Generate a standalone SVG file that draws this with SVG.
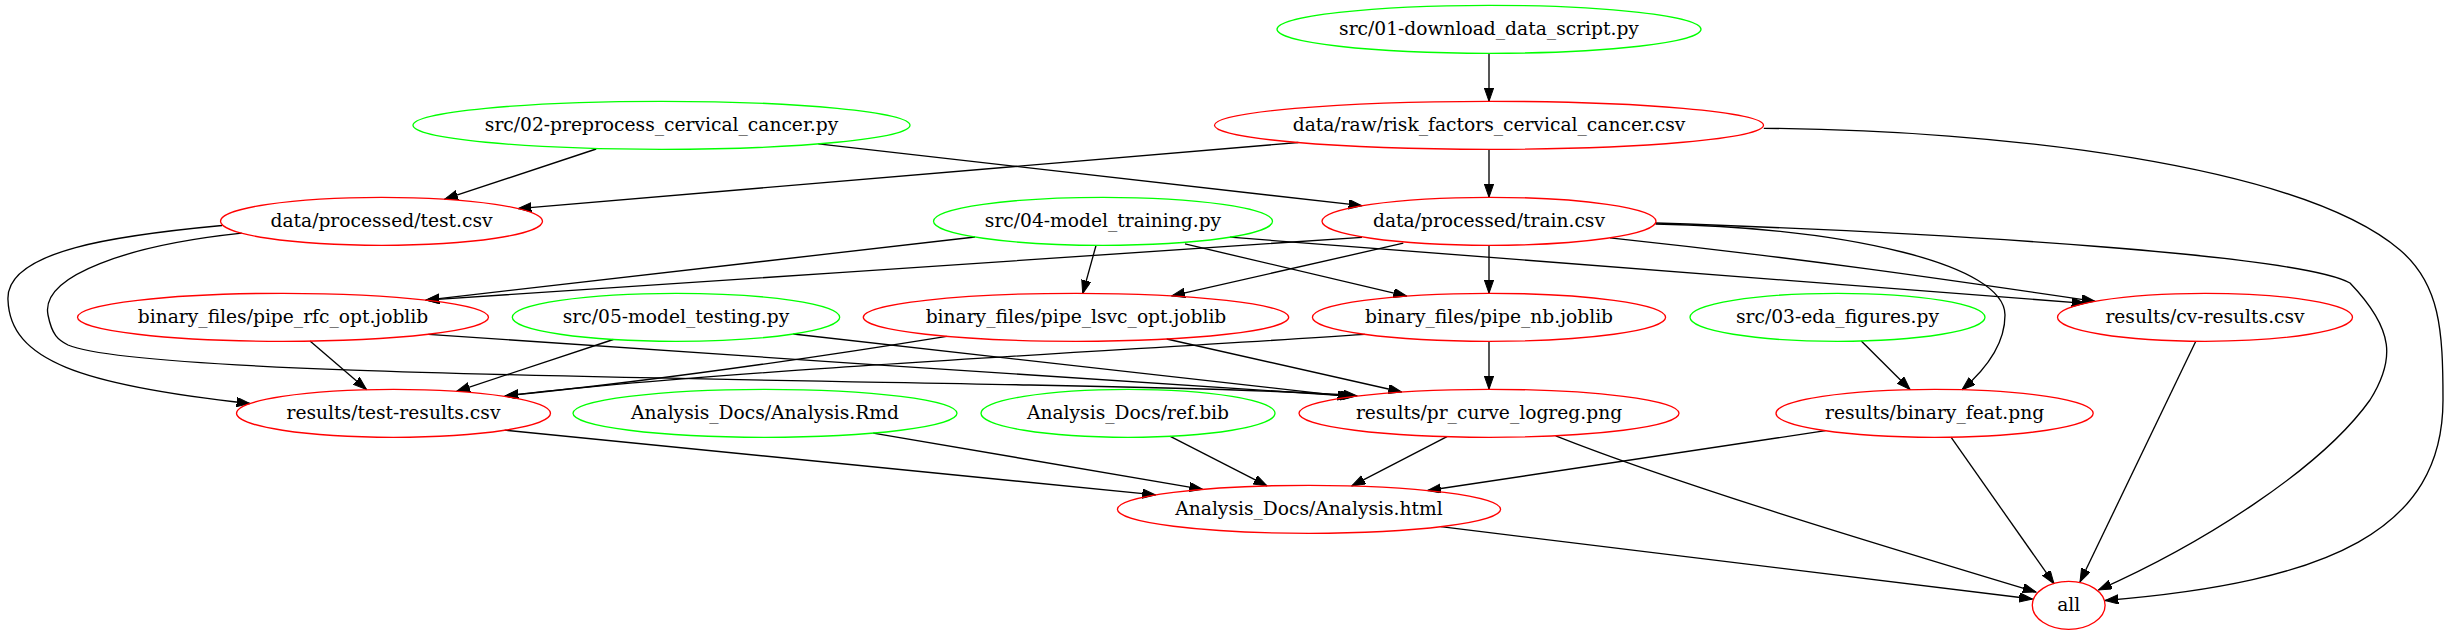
<svg xmlns="http://www.w3.org/2000/svg" width="2446" height="635" viewBox="0 0 2446 635">
<style>
.r{fill:none;stroke:#ff0000;stroke-width:1.33}
.g{fill:none;stroke:#00ff00;stroke-width:1.33}
text{font-family:'DejaVu Serif',serif;font-size:18.67px;text-anchor:middle;fill:#000}
.e path{fill:none;stroke:#000;stroke-width:1.33;marker-end:url(#ah)}
</style>
<defs>
<marker id="ah" markerUnits="userSpaceOnUse" markerWidth="14" markerHeight="10" refX="13.33" refY="4.67" orient="auto">
<path d="M0,0 L13.33,4.67 L0,9.33 z" fill="#000" stroke="#000" stroke-width="1"/>
</marker>
</defs>
<rect width="2446" height="635" fill="#fff"/>
<g class="e" id="edges">
<path d="M1489,53.3 L1489,101.3"/>
<path d="M1298.3,142.5 L518,208.6"/>
<path d="M1489,149.3 L1489,197.3"/>
<path d="M1763.8,128.3 C2000,130 2300,165 2400,250 C2440,284 2443,330 2443,400 C2443,530 2330,582 2105,600.5"/>
<path d="M596.2,149 L444.6,199.2"/>
<path d="M818.3,143.9 L1362,205.7"/>
<path d="M1362,237.3 C1150,252 700,282 426,300.1"/>
<path d="M1403.3,243.2 L1171.7,295.9"/>
<path d="M1489,245.3 L1489,293.3"/>
<path d="M1610,237.8 C1800,258 1950,280 2095,301.3"/>
<path d="M1655.5,224 C1850,228 2005,265 2005,315 C2005,345 1985,370 1962,389.7"/>
<path d="M1655.5,223 C1950,233 2300,255 2350,283 C2395,330 2395,360 2370,400 C2320,470 2200,545 2098.5,590"/>
<path d="M975,237 L426,300.1"/>
<path d="M1096,245.5 L1082.7,293.6"/>
<path d="M1185,243.9 L1406.7,296.1"/>
<path d="M1230,237.2 C1500,259 1800,281 2085,303.3"/>
<path d="M222,225.5 C120,235 5,250 8,300 C10,360 80,385 250,403.5"/>
<path d="M241.7,233.2 C130,245 40,275 48,315 C52,335 58,340 68,345 C130,372 600,377 1030,385 C1200,388 1290,391 1357,395.8"/>
<path d="M310,341.1 L366.5,389.5"/>
<path d="M428.3,334.3 C700,355 1100,378 1354,396.3"/>
<path d="M613.3,339.5 L456.7,391.3"/>
<path d="M793.3,334 L1351,396.8"/>
<path d="M946.7,336.3 C800,360 650,381 505,396"/>
<path d="M1166.7,339 L1401.7,392"/>
<path d="M1365,334.4 C1100,352 700,372 505,396"/>
<path d="M1489,341.3 L1489,389.3"/>
<path d="M1861.3,341 L1910,389.5"/>
<path d="M2195.8,341.3 L2080,582"/>
<path d="M504.7,430.2 L1155.6,494.9"/>
<path d="M873.2,433.1 L1202.7,489.3"/>
<path d="M1170.3,436.3 L1267,485.9"/>
<path d="M1447,436.7 L1351.8,485.9"/>
<path d="M1555.7,435.8 C1680,485 1880,545 2036,592"/>
<path d="M1825.5,430.7 L1427.6,490.5"/>
<path d="M1951,437.2 L2054,583.7"/>
<path d="M1440.7,526.7 L2032.5,599"/>
</g>
<g id="src01"><ellipse class="g" cx="1489" cy="29.3" rx="212" ry="24"/><text x="1489" y="35">src/01-download_data_script.py</text></g>
<g id="raw"><ellipse class="r" cx="1489" cy="125.3" rx="274.5" ry="24"/><text x="1489" y="131">data/raw/risk_factors_cervical_cancer.csv</text></g>
<g id="src02"><ellipse class="g" cx="661.5" cy="125.3" rx="248.5" ry="24"/><text x="661.5" y="131">src/02-preprocess_cervical_cancer.py</text></g>
<g id="test"><ellipse class="r" cx="381.5" cy="221.3" rx="161" ry="24"/><text x="381.5" y="227">data/processed/test.csv</text></g>
<g id="train"><ellipse class="r" cx="1489" cy="221.3" rx="167" ry="24"/><text x="1489" y="227">data/processed/train.csv</text></g>
<g id="src04"><ellipse class="g" cx="1103" cy="221.3" rx="169.5" ry="24"/><text x="1103" y="227">src/04-model_training.py</text></g>
<g id="rfc"><ellipse class="r" cx="283" cy="317.3" rx="205.5" ry="24"/><text x="283" y="323">binary_files/pipe_rfc_opt.joblib</text></g>
<g id="src05"><ellipse class="g" cx="676" cy="317.3" rx="163.7" ry="24"/><text x="676" y="323">src/05-model_testing.py</text></g>
<g id="lsvc"><ellipse class="r" cx="1076" cy="317.3" rx="212.7" ry="24"/><text x="1076" y="323">binary_files/pipe_lsvc_opt.joblib</text></g>
<g id="nb"><ellipse class="r" cx="1489" cy="317.3" rx="176.6" ry="24"/><text x="1489" y="323">binary_files/pipe_nb.joblib</text></g>
<g id="src03"><ellipse class="g" cx="1837.5" cy="317.3" rx="147.5" ry="24"/><text x="1837.5" y="323">src/03-eda_figures.py</text></g>
<g id="cv"><ellipse class="r" cx="2205" cy="317.3" rx="147.5" ry="24"/><text x="2205" y="323">results/cv-results.csv</text></g>
<g id="testres"><ellipse class="r" cx="393.5" cy="413.3" rx="157" ry="24"/><text x="393.5" y="419">results/test-results.csv</text></g>
<g id="rmd"><ellipse class="g" cx="765" cy="413.3" rx="192" ry="24"/><text x="765" y="419">Analysis_Docs/Analysis.Rmd</text></g>
<g id="bib"><ellipse class="g" cx="1128" cy="413.3" rx="147" ry="24"/><text x="1128" y="419">Analysis_Docs/ref.bib</text></g>
<g id="pr"><ellipse class="r" cx="1489" cy="413.3" rx="190" ry="24"/><text x="1489" y="419">results/pr_curve_logreg.png</text></g>
<g id="bfeat"><ellipse class="r" cx="1934.6" cy="413.3" rx="158.6" ry="24"/><text x="1934.6" y="419">results/binary_feat.png</text></g>
<g id="html"><ellipse class="r" cx="1309" cy="509.3" rx="191.6" ry="24"/><text x="1309" y="515">Analysis_Docs/Analysis.html</text></g>
<g id="all"><ellipse class="r" cx="2068.7" cy="605.3" rx="36.4" ry="24"/><text x="2068.7" y="611">all</text></g>
</svg>
